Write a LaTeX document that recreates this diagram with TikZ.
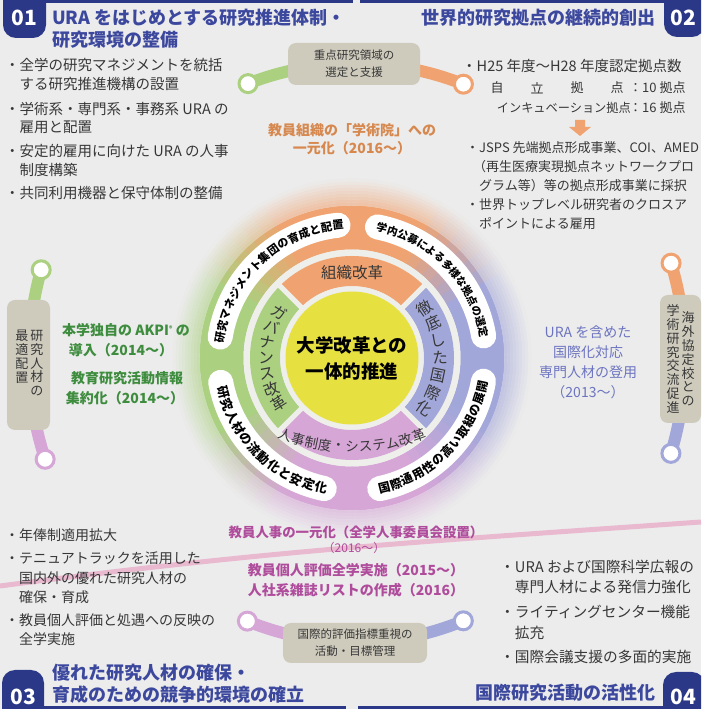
\documentclass[tikz,border=0pt]{standalone}
\usepackage{fontspec}
\setmainfont{Noto Sans CJK JP}
\usetikzlibrary{calc}
\definecolor{bg}{RGB}{236,236,236}
\definecolor{navy}{RGB}{43,55,135}
\definecolor{ttl}{RGB}{60,72,158}
\definecolor{txt}{RGB}{55,55,55}
\definecolor{ora}{RGB}{240,163,112}
\definecolor{grn}{RGB}{170,208,128}
\definecolor{blu}{RGB}{162,167,218}
\definecolor{pur}{RGB}{214,166,214}
\definecolor{yel}{RGB}{230,225,64}
\definecolor{boxc}{RGB}{206,203,189}
\definecolor{gapc}{RGB}{238,238,234}
\definecolor{otxt}{RGB}{214,136,78}
\definecolor{gtxt}{RGB}{62,140,62}
\definecolor{btxt}{RGB}{108,116,192}
\definecolor{ptxt}{RGB}{176,76,156}
\definecolor{pinkl}{RGB}{233,185,208}
\colorlet{c0}{blu}\colorlet{c1}{ora}\colorlet{c2}{grn}\colorlet{c3}{pur}\colorlet{c4}{blu}
\tikzset{
 body/.style={anchor=west, inner sep=0pt, text=txt, font=\fontsize{14.5}{17}\selectfont},
 bodyr/.style={anchor=west, inner sep=0pt, text=txt, font=\fontsize{13}{16}\selectfont},
 bodyb/.style={anchor=west, inner sep=0pt, text=txt, font=\fontsize{14}{17}\selectfont},
 bodyc/.style={anchor=west, inner sep=0pt, text=txt, font=\fontsize{14.7}{17}\selectfont},
 ttlstyle/.style={inner sep=0pt, text=ttl, font=\fontsize{18}{21}\bfseries\selectfont},
 badge/.style={fill=navy, rounded corners=13pt},
 badgetxt/.style={text=white, font=\fontsize{21}{21}\bfseries\selectfont, inner sep=0},
 arm/.style={line width=12pt},
 endcirc/.style={circle, fill=white, draw=#1, line width=3pt, minimum size=18pt, inner sep=0},
 gbox/.style={fill=boxc, rounded corners=8pt, inner sep=0},
 boxtxt/.style={text=txt, font=\fontsize{11.5}{17}\selectfont, align=center, inner sep=0},
 vtxt/.style={text=txt, font=\fontsize{13}{13.8}\selectfont, align=center, inner sep=0},
 ctext/.style={inner sep=0, font=\fontsize{14}{20}\bfseries\selectfont, align=center},
 pill/.style={white, line width=25pt, line cap=round},
 ptx/.style={inner sep=0, text=black, font=\fontsize{#1}{#1}\bfseries\selectfont},
 btx/.style={inner sep=0, text=txt, font=\fontsize{#1}{#1}\selectfont},
}
\newcommand\ArcTxt[7]{\foreach \ch [count=\i from 0] in {#7}{%
  \pgfmathsetmacro\ang{#3+\i*(#4)}\pgfmathsetmacro\rot{\ang+(#5)}%
  \node[#6, rotate=\rot] at ($(#1)+(\ang:#2)$) {\ch};}}
\begin{document}
\begin{tikzpicture}[x=1pt,y=1pt]
\useasboundingbox (0,0) rectangle (701,709);
\clip (0,0) rectangle (701,709);
\fill[bg] (0,0) rectangle (701,709);
\coordinate (C) at (352,351);
\coordinate (CA) at (355,351);
% pink line
\coordinate (pk1) at (0,123);
\coordinate (pk2) at (701,187);
\draw[pinkl, line width=5pt] (pk1) to[out=7.5, in=184] (pk2);
% blue rules
\coordinate (tl1) at (40,707.5); \coordinate (tl2) at (353,707.5);
\coordinate (tl3) at (360,707.5); \coordinate (tl4) at (668,707.5);
\draw[navy, line width=3pt] (tl1) -- (tl2); \draw[navy, line width=3pt] (tl3) -- (tl4);
\coordinate (bl1) at (40,1.5); \coordinate (bl2) at (346,1.5);
\coordinate (bl3) at (358,1.5); \coordinate (bl4) at (668,1.5);
\draw[navy, line width=3pt] (bl1) -- (bl2); \draw[navy, line width=3pt] (bl3) -- (bl4);
% badges
\fill[badge] (3,725) rectangle (46,671);
\node[badgetxt] (b1) at (24.5,691) {01};
\fill[badge] (664,725) rectangle (705,672);
\node[badgetxt] (b2) at (683,691) {02};
\fill[badge] (2,-16) rectangle (44,39);
\node[badgetxt] (b3) at (23,12) {03};
\fill[badge] (663,-16) rectangle (705,37);
\node[badgetxt] (b4) at (683,12) {04};
% titles
\node[ttlstyle, anchor=west] (t1a) at (52,691) {URA をはじめとする研究推進体制・};
\node[ttlstyle, anchor=west] (t1b) at (52,669) {研究環境の整備};
\node[ttlstyle, anchor=east] (t2) at (656,691) {世界的研究拠点の継続的創出};
\node[ttlstyle, anchor=west] (t3a) at (52,36) {優れた研究人材の確保・};
\node[ttlstyle, anchor=west] (t3b) at (52,14) {育成のための競争的環境の確立};
\node[ttlstyle, anchor=east] (t4) at (656,16) {国際研究活動の活性化};
% arms
\coordinate (ptl) at ($(CA)+(111.3:294.5)$);
\coordinate (ptr) at ($(CA)+(68.4:294.5)$);
\coordinate (plt) at ($(CA)+(164.3:326)$);
\coordinate (plb) at ($(CA)+(198.1:326)$);
\coordinate (prt) at ($(CA)+(16.7:330)$);
\coordinate (prb) at ($(CA)+(-16.8:330)$);
\coordinate (pbl) at ($(CA)+(247.75:284.3)$);
\coordinate (pbr) at ($(CA)+(292.4:284.3)$);
\draw[arm, grn] (ptl) arc[start angle=111.3, end angle=90, radius=294.5];
\draw[arm, ora] (ptr) arc[start angle=68.4, end angle=90, radius=294.5];
\draw[arm, grn] (plt) arc[start angle=164.3, end angle=180, radius=326];
\draw[arm, pur] (plb) arc[start angle=198.1, end angle=180, radius=326];
\draw[arm, ora] (prt) arc[start angle=16.7, end angle=0, radius=330];
\draw[arm, blu] (prb) arc[start angle=-16.8, end angle=0, radius=330];
\draw[arm, pur] (pbl) arc[start angle=247.75, end angle=270, radius=284.3];
\draw[arm, blu] (pbr) arc[start angle=292.4, end angle=270, radius=284.3];
% boxes
\node[gbox, minimum width=132pt, minimum height=42pt, boxtxt] (topbox) at (354,645) {重点研究領域の\\選定と支援};
\node[gbox, minimum width=144pt, minimum height=40pt, boxtxt] (botbox) at (355,66) {国際的評価指標重視の\\活動・目標管理};
\node[gbox, minimum width=43pt, minimum height=130pt] (lbox) at (28.5,344) {};
\node[gbox, minimum width=41pt, minimum height=128pt] (rbox) at (680.5,350) {};
\node[vtxt, anchor=north] (lv1) at (37,379) {研\\究\\人\\材\\の};
\node[vtxt, anchor=north] (lv2) at (22,379) {最\\適\\配\\置};
\node[vtxt] (rv1) at (688,350) {海\\外\\協\\定\\校\\と\\の};
\node[vtxt] (rv2) at (673,350) {学\\術\\研\\究\\交\\流\\促\\進};
% end circles
\node[endcirc=grn] (ctl) at (ptl) {};
\node[endcirc=ora] (ctr) at (ptr) {};
\node[endcirc=grn] (clt) at (plt) {};
\node[endcirc=pur] (clb) at (plb) {};
\node[endcirc=ora] (crt) at (prt) {};
\node[endcirc=blu] (crb) at (prb) {};
\node[endcirc=pur] (cbl) at (pbl) {};
\node[endcirc=blu] (cbr) at (pbr) {};
% outer ring with glow
\foreach \a in {0,5,...,355}{
  \pgfmathsetmacro\m{\a+2.5}
  \pgfmathtruncatemacro\ix{floor(\m/90)}
  \pgfmathtruncatemacro\nx{\ix+1}
  \pgfmathsetmacro\fr{(\m-90*\ix)/90}
  \pgfmathtruncatemacro\pct{100*max(0,min(1,(\fr-0.3)/0.4))}
  \colorlet{segc}{c\nx!\pct!c\ix}
  \pgfmathsetmacro\b{\a+5.4}
  \draw[segc, line width=44pt] ($(C)+(\a:130.5)$) arc[start angle=\a, end angle=\b, radius=130.5];
  \foreach \j in {1,...,9}{
    \pgfmathsetmacro\rr{152.5+3*(\j-0.5)}
    \pgfmathtruncatemacro\gp{60*(1-(\j-0.5)/9)}
    \draw[segc!\gp!bg, line width=3.3pt] ($(C)+(\a:\rr)$) arc[start angle=\a, end angle=\b, radius=\rr];
  }
}
\fill[gapc] (C) circle (108.5);
\draw[ora, line width=30pt] ($(C)+(45:87)$) arc[start angle=45, end angle=135, radius=87];
\draw[grn, line width=30pt] ($(C)+(135:87)$) arc[start angle=135, end angle=225, radius=87];
\draw[pur, line width=30pt] ($(C)+(225:87)$) arc[start angle=225, end angle=315, radius=87];
\draw[blu, line width=30pt] ($(C)+(315:87)$) arc[start angle=315, end angle=405, radius=87];
\foreach \s in {45,135,225,315}{\draw[gapc, line width=5pt] ($(C)+(\s:68)$) -- ($(C)+(\s:104)$);}
\fill[gapc] (C) circle (71.5);
\fill[yel] (C) circle (66.5);
\node[inner sep=0, align=center, font=\fontsize{18.5}{26}\bfseries\selectfont] (core) at (C) {大学改革との\\一体的推進};
% pills
\draw[pill] ($(C)+(171:133.5)$) arc[start angle=171, end angle=96, radius=133.5];
\draw[pill] ($(C)+(79:133.5)$) arc[start angle=79, end angle=9.5, radius=133.5];
\draw[pill] ($(C)+(282:133.5)$) arc[start angle=282, end angle=350, radius=133.5];
\draw[pill] ($(C)+(190.5:133.5)$) arc[start angle=190.5, end angle=258, radius=133.5];
\ArcTxt{C}{133.5}{171}{-5}{-90}{ptx=11.2}{研,究,マ,ネ,ジ,メ,ン,ト,集,団,の,育,成,と,配,置}
\ArcTxt{C}{133.5}{77}{-4.7}{-90}{ptx=10.6}{学,内,公,募,に,よ,る,多,様,な,拠,点,の,選,定}
\ArcTxt{C}{133.5}{284}{5.3}{90}{ptx=12}{国,際,通,用,性,の,高,い,取,組,の,展,開}
\ArcTxt{C}{133.5}{195}{5.6}{90}{ptx=12.5}{研,究,人,材,の,流,動,化,と,安,定,化}
% inner labels
\node[btx=15.5] (soshiki) at ($(C)+(0,85)$) {組織改革};
\ArcTxt{C}{88}{34.8}{-11.6}{0}{btx=15.5}{徹,底,し,た,国,際,化}
\ArcTxt{C}{86}{148}{10.7}{-180}{btx=15.5}{ガ,バ,ナ,ン,ス,改,革}
\coordinate (C2) at (352,462);
\ArcTxt{C2}{200}{250.5}{3.9}{-270}{btx=13.5}{人,事,制,度,・,シ,ス,テ,ム,改,革}
% colored middle texts
\node[ctext, text=otxt] (o1) at (352,579) {教員組織の「学術院」への};
\node[ctext, text=otxt] (o2) at (352,561) {一元化（2016〜）};
\node[ctext, text=gtxt] (g1) at (126,379) {本学独自の AKPI{\fontsize{7}{7}\selectfont\raisebox{4pt}{®}} の};
\node[ctext, text=gtxt] (g2) at (121,359) {導入（2014〜）};
\node[ctext, text=gtxt] (g3) at (127,331) {教育研究活動情報};
\node[ctext, text=gtxt] (g4) at (125,311) {集約化（2014〜）};
\node[ctext, text=btxt, font=\fontsize{14}{20}\selectfont] (u1) at (588,377) {URA を含めた};
\node[ctext, text=btxt, font=\fontsize{14}{20}\selectfont] (u2) at (588,357) {国際化対応};
\node[ctext, text=btxt, font=\fontsize{14}{20}\selectfont] (u3) at (588,337) {専門人材の登用};
\node[ctext, text=btxt, font=\fontsize{14}{20}\selectfont] (u4) at (588,317) {（2013〜）};
\node[ctext, text=ptxt, font=\fontsize{13.4}{20}\bfseries\selectfont] (q1) at (356,177) {教員人事の一元化（全学人事委員会設置）};
\node[ctext, text=ptxt, font=\fontsize{12}{20}\selectfont] (q2) at (354,161) {（2016〜）};
\node[ctext, text=ptxt] (q3) at (356,139) {教員個人評価全学実施（2015〜）};
\node[ctext, text=ptxt] (q4) at (356,119) {人社系雑誌リストの作成（2016）};
% block 01
\node[body] (a1) at (5,644) {・全学の研究マネジメントを統括};
\node[body] (a2) at (19.5,625) {する研究推進機構の設置};
\node[body] (a3) at (5,600) {・学術系・専門系・事務系 URA の};
\node[body] (a4) at (19.5,582) {雇用と配置};
\node[body] (a5) at (5,558) {・安定的雇用に向けた URA の人事};
\node[body] (a6) at (19.5,539) {制度構築};
\node[body] (a7) at (5,516) {・共同利用機器と保守体制の整備};
% block 02
\node[body] (r1) at (462,643) {・H25 年度〜H28 年度認定拠点数};
\node[btx=13] (k1) at (497,621) {自};
\node[btx=13] (k2) at (537,621) {立};
\node[btx=13] (k3) at (577,621) {拠};
\node[btx=13] (k4) at (617,621) {点};
\node[btx=13, anchor=west] (k5) at (629,621) {：10 拠点};
\node[btx=12.2, anchor=east] (k6) at (631,601) {インキュベーション拠点};
\node[btx=13, anchor=west] (k7) at (629,601) {：16 拠点};
\coordinate (ar0) at (580,573);
\fill[ora] (575,589) -- (585,589) -- (585,582) -- (591,582) -- (ar0) -- (569,582) -- (575,582) -- cycle;
\node[bodyr] (r2) at (466,561) {・JSPS 先端拠点形成事業、COI、AMED};
\node[bodyr] (r3) at (473,542) {（再生医療実現拠点ネットワークプロ};
\node[bodyr] (r4) at (479,523) {グラム等）等の拠点形成事業に採択};
\node[bodyr] (r5) at (466,504) {・世界トップレベル研究者のクロスア};
\node[bodyr] (r6) at (479,485) {ポイントによる雇用};
% block 03
\node[bodyb] (s1) at (5,174) {・年俸制適用拡大};
\node[bodyb] (s2) at (5,151) {・テニュアトラックを活用した};
\node[bodyb] (s3) at (19,131) {国内外の優れた研究人材の};
\node[bodyb] (s4) at (19,112) {確保・育成};
\node[bodyb] (s5) at (5,89) {・教員個人評価と処遇への反映の};
\node[bodyb] (s6) at (19,70) {全学実施};
% block 04
\node[bodyc] (w1) at (500,142) {・URA および国際科学広報の};
\node[bodyc] (w2) at (514.7,122) {専門人材による発信力強化};
\node[bodyc] (w3) at (500,97) {・ライティングセンター機能};
\node[bodyc] (w4) at (514.7,76) {拡充};
\node[bodyc] (w5) at (500,52) {・国際会議支援の多面的実施};
\end{tikzpicture}
\end{document}
